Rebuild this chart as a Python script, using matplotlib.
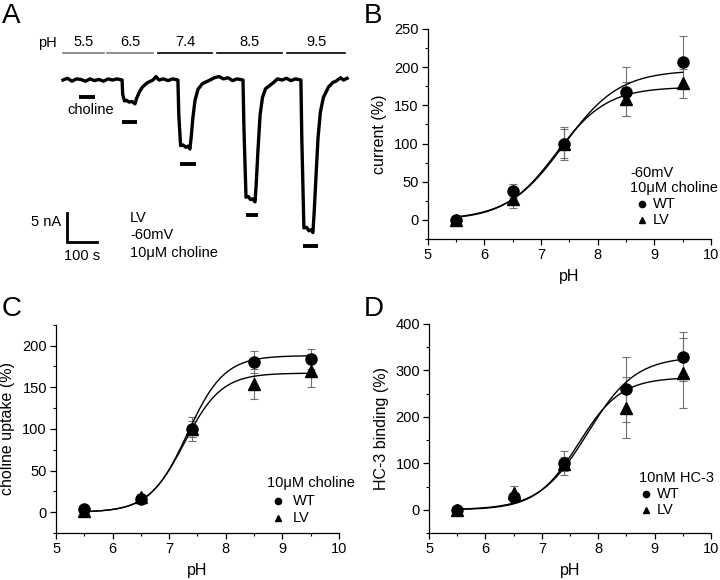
import numpy as np
import matplotlib.pyplot as plt
from matplotlib.ticker import AutoMinorLocator

plt.rcParams['font.family'] = ['Liberation Sans', 'DejaVu Sans']
plt.rcParams['font.size'] = 10

# ---- data ----
ph = [5.5, 6.5, 7.4, 8.5, 9.5]

# B: current (%)
cur_wt = [0, 38, 100, 168, 207]
cur_wt_err = [5, 9, 22, 32, 34]
cur_lv = [0, 27, 100, 158, 179]
cur_lv_err = [4, 12, 19, 22, 19]
cur_fit_wt = (196, 7.40, 0.885)   # top, pH50, hill slope
cur_fit_lv = (174, 7.265, 0.962)

# C: choline uptake (%)
upt_wt = [4, 16, 100, 180, 184]
upt_wt_err = [3, 4, 14, 13, 12]
upt_lv = [1, 18, 100, 154, 170]
upt_lv_err = [5, 4, 10, 18, 20]
upt_fit_wt = (188, 7.32, 1.33)
upt_fit_lv = (167, 7.27, 1.33)

# D: HC-3 binding (%)
hc3_wt = [0, 27, 100, 260, 330]
hc3_wt_err = [8, 10, 26, 70, 53]
hc3_lv = [0, 37, 98, 220, 295]
hc3_lv_err = [6, 15, 15, 65, 75]
hc3_fit_wt = (330, 7.81, 1.02)
hc3_fit_lv = (285, 7.65, 1.153)

# A: recording (time s, current nA)
trace = [(0, 0), (15, 0.3), (30, -0.2), (45, 0.2), (60, 0.1), (75, -0.2),
         (90, 0.2), (105, -0.1), (120, 0.1), (135, -0.2), (150, 0.2),
         (165, 0), (180, 0.2), (197, 0), (199, -2.5), (205, -3.6),
         (212, -3.5), (220, -3.8), (230, -3.7), (240, -4.1), (245, -3.2),
         (255, -2.0), (265, -1.2), (280, -0.5), (300, 0), (310, 0.6),
         (320, 0), (335, 0.2), (350, -0.1), (365, 0.2), (383, 0), (386, -6),
         (392, -11.3), (400, -11.2), (410, -11.6), (417, -11.4), (423, -11.9),
         (427, -10), (433, -6.5), (440, -3.5), (450, -1.6), (465, -0.6),
         (490, 0), (505, 0.4), (520, 0.6), (535, 0.2), (550, 0.4), (565, -0.1),
         (580, 0.2), (600, 0), (603, -8), (610, -20.2), (618, -20.1),
         (625, -20.6), (632, -20.5), (640, -21.0), (644, -18), (650, -12),
         (657, -6), (665, -3), (675, -1.5), (700, -0.5), (715, 0.2), (730, 0),
         (745, 0.3), (760, -0.1), (775, 0.2), (793, 0), (796, -10),
         (803, -25.5), (812, -25.4), (820, -26.0), (827, -25.8), (833, -26.3),
         (837, -23), (843, -17), (850, -10), (858, -5.5), (868, -3),
         (885, -1.2), (900, -0.4), (910, -0.2), (925, 0.4), (935, 0), (947, 0.3)]
ph_labels = ['5.5', '6.5', '7.4', '8.5', '9.5']
ph_bars = [(0, 137), (147, 300), (317, 497), (513, 730), (747, 940)]
ph_bar_colors = ['#7a7a7a', '#7a7a7a', 'black', 'black', 'black']
choline_bars = [(53, 107, -2.9), (197, 247, -7.2), (390, 443, -14.5),
                (610, 650, -23.3), (800, 850, -28.6)]


def hill(x, top, p50, n):
    return top / (1 + 10 ** (n * (p50 - x)))


fig = plt.figure(figsize=(7.2, 5.8), dpi=100)

# ---- panel A ----
axa = fig.add_axes([0, 0.5, 0.5, 0.5])
axa.set_xlim(-210, 990)
axa.set_ylim(-36.2, 13.8)
axa.axis('off')
tt, ii = zip(*trace)
axa.plot(tt, ii, color='black', lw=2.4, solid_joinstyle='round')
fs_a = 10.5
axa.text(-53, 6.4, 'pH', ha='center', va='center', fontsize=fs_a)
for (a, b), lab, c in zip(ph_bars, ph_labels, ph_bar_colors):
    axa.plot([a, b], [4.66, 4.66], color=c, lw=1.2)
    axa.text((a + b) / 2, 6.5, lab, ha='center', va='center', fontsize=fs_a)
for a, b, y in choline_bars:
    axa.plot([a, b], [y, y], color='black', lw=2.8, solid_capstyle='butt')
axa.text(13, -5.2, 'choline', ha='left', va='center', fontsize=fs_a)
# scale bar
axa.plot([13, 13, 113], [-22.9, -27.9, -27.9], color='black', lw=2,
         solid_joinstyle='miter')
axa.text(-7, -24.5, '5 nA', ha='right', va='center', fontsize=fs_a)
axa.text(62, -30.3, '100 s', ha='center', va='center', fontsize=fs_a)
for y, s in zip([-23.8, -26.7, -29.8], ['LV', '-60mV', '10\u03bcM choline']):
    axa.text(223, y, s, ha='left', va='center', fontsize=fs_a)


def panel(rect, wt, wt_err, lv, lv_err, fit_wt, fit_lv, ylim, yticks, ylabel,
          leg_title, leg_pos):
    ax = fig.add_axes(rect)
    ax.errorbar(ph, wt, yerr=wt_err, fmt='none', ecolor='#707070',
                elinewidth=0.8, capsize=3, capthick=0.8)
    ax.errorbar(ph, lv, yerr=lv_err, fmt='none', ecolor='#707070',
                elinewidth=0.8, capsize=3, capthick=0.8)
    xs = np.linspace(5.5, 9.5, 200)
    ax.plot(xs, hill(xs, *fit_wt), color='black', lw=1)
    ax.plot(xs, hill(xs, *fit_lv), color='black', lw=1)
    ax.plot(ph, wt, 'o', color='black', ms=8)
    ax.plot(ph, lv, '^', color='black', ms=8)
    ax.set_xlim(5, 10)
    ax.set_ylim(*ylim)
    ax.set_xticks([5, 6, 7, 8, 9, 10])
    ax.set_yticks(yticks)
    ax.xaxis.set_minor_locator(AutoMinorLocator(2))
    ax.yaxis.set_minor_locator(AutoMinorLocator(2))
    ax.set_xlabel('pH', fontsize=11.5, labelpad=5)
    ax.set_ylabel(ylabel, fontsize=11.5, labelpad=5)
    for s in ['top', 'right']:
        ax.spines[s].set_visible(False)
    for s in ['left', 'bottom']:
        ax.spines[s].set_linewidth(0.9)
    ax.tick_params(which='major', direction='out', length=4.5, width=0.9,
                   labelsize=10.5, pad=2)
    ax.tick_params(which='minor', direction='out', length=2.5, width=0.8)
    # legend block
    x0, ys, xm, xt = leg_pos
    for y, s in zip(ys[:len(leg_title)], leg_title):
        ax.text(x0, y, s, transform=ax.transAxes, ha='left', va='center',
                fontsize=10.5)
    yw, yl = ys[-2], ys[-1]
    ax.plot([xm], [yw], 'o', color='black', ms=4.5, transform=ax.transAxes,
            clip_on=False)
    ax.plot([xm], [yl], '^', color='black', ms=4.5, transform=ax.transAxes,
            clip_on=False)
    ax.text(xt, yw, 'WT', transform=ax.transAxes, ha='left', va='center',
            fontsize=10.5)
    ax.text(xt, yl, 'LV', transform=ax.transAxes, ha='left', va='center',
            fontsize=10.5)
    return ax


panel([0.594, 0.588, 0.3935, 0.362], cur_wt, cur_wt_err, cur_lv, cur_lv_err,
      cur_fit_wt, cur_fit_lv, (-25, 250), range(0, 251, 50), 'current (%)',
      ['-60mV', '10\u03bcM choline'], (0.714, [0.314, 0.243, 0.167, 0.09], 0.756, 0.795))

panel([0.0778, 0.081, 0.393, 0.359], upt_wt, upt_wt_err, upt_lv, upt_lv_err,
      upt_fit_wt, upt_fit_lv, (-25, 225), range(0, 201, 50), 'choline uptake (%)',
      ['10\u03bcM choline'], (0.746, [0.24, 0.154, 0.072], 0.785, 0.838))

panel([0.596, 0.081, 0.3915, 0.3604], hc3_wt, hc3_wt_err, hc3_lv, hc3_lv_err,
      hc3_fit_wt, hc3_fit_lv, (-50, 400), range(0, 401, 100), 'HC-3 binding (%)',
      ['10nM HC-3'], (0.745, [0.263, 0.187, 0.11], 0.77, 0.808))

# panel letters
for x, y, s in [(0.002, 0.995, 'A'), (0.505, 0.995, 'B'),
                (0.002, 0.49, 'C'), (0.505, 0.49, 'D')]:
    fig.text(x, y, s, ha='left', va='top', fontsize=20)

fig.savefig('out.png', dpi=100)
